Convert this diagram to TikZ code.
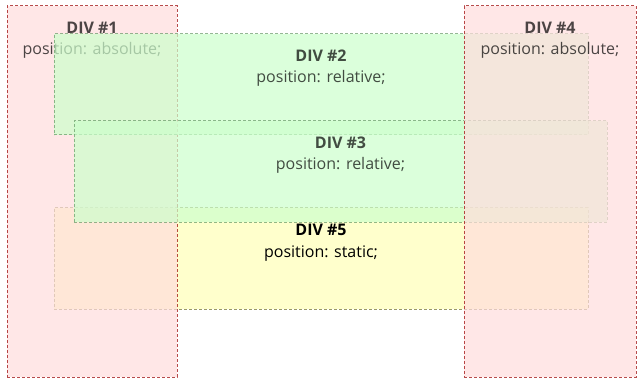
\documentclass[tikz,border=0pt]{standalone}
\usepackage{fontspec}
\setmainfont{Open Sans}
\definecolor{pinkfill}{HTML}{FFDDDD}
\definecolor{redborder}{HTML}{990000}
\definecolor{greenfill}{HTML}{CCFFCC}
\definecolor{greenborder}{HTML}{669966}
\definecolor{yellowfill}{HTML}{FFFFCC}
\definecolor{yellowborder}{HTML}{999966}
\begin{document}
\begin{tikzpicture}[x=1pt,y=-1pt,
  divbox/.style={rectangle, inner sep=0pt, outer sep=0pt, anchor=north west, line width=1pt, dash pattern=on 3pt off 2pt},
  absbox/.style={divbox, fill=pinkfill, draw=redborder, opacity=0.7},
  relbox/.style={divbox, fill=greenfill, draw=greenborder, opacity=0.7},
  statbox/.style={divbox, fill=yellowfill, draw=yellowborder},
  ttl/.style={anchor=base, inner sep=0pt, font=\fontsize{16}{18}\selectfont\bfseries},
  sub/.style={anchor=base, inner sep=0pt, font=\fontsize{16}{18}\selectfont},
  faded/.style={text opacity=0.7}
]
\useasboundingbox (0,0) rectangle (643,385);
% DIV 5 static
\node[statbox, minimum width=534pt, minimum height=101pt] (d5) at (54,208) {};
\node[ttl] (d5t) at (321,236) {DIV \#5};
\node[sub] (d5s) at (321,257) {position: static;};
% DIV 1
\node[absbox, minimum width=170pt, minimum height=371pt] (d1) at (7,6) {};
\node[ttl, faded] (d1t) at (92,34) {DIV \#1};
\node[sub, faded] (d1s) at (92,55) {position: absolute;};
% DIV 2
\node[relbox, minimum width=534pt, minimum height=101pt] (d2) at (54,34) {};
\node[ttl, faded] (d2t) at (321,62) {DIV \#2};
\node[sub, faded] (d2s) at (321,83) {position: relative;};
% DIV 3
\node[relbox, minimum width=533pt, minimum height=101pt] (d3) at (74,121) {};
\node[ttl, faded] (d3t) at (340.5,149) {DIV \#3};
\node[sub, faded] (d3s) at (340.5,170) {position: relative;};
% DIV 4
\node[absbox, minimum width=172pt, minimum height=371pt] (d4) at (464,6) {};
\node[ttl, faded] (d4t) at (550,34) {DIV \#4};
\node[sub, faded] (d4s) at (550,55) {position: absolute;};
\end{tikzpicture}
\end{document}
